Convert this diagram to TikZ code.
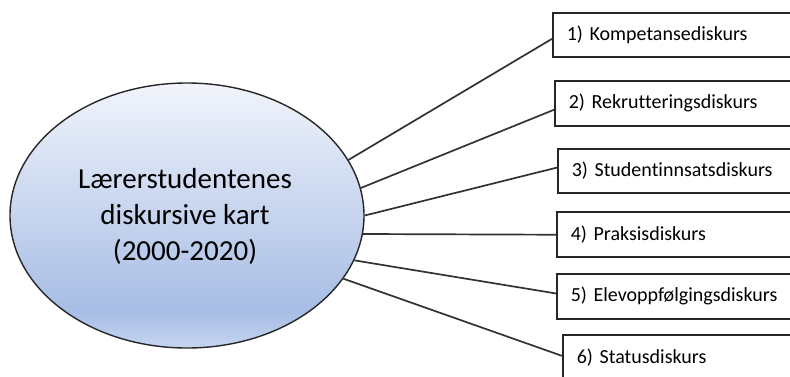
\documentclass[tikz,border=0pt]{standalone}
\usepackage{fontspec}
\setmainfont[Ligatures=NoCommon]{Carlito}
\usetikzlibrary{shapes.geometric,calc}

\definecolor{hubtop}{RGB}{241,244,251}
\definecolor{hubmid}{RGB}{167,189,229}
\definecolor{hubbot}{RGB}{198,213,240}
\definecolor{edge}{RGB}{50,50,50}

% vertical fill of the central ellipse: light at the top, deepest blue near the bottom
\pgfdeclareverticalshading{hubshade}{100bp}{%
  color(0bp)=(hubbot); color(25bp)=(hubbot); color(32bp)=(hubmid);
  color(75bp)=(hubtop); color(100bp)=(hubtop)}

\tikzset{
  hub/.style={ellipse, draw=black!85, line width=1.4pt, shading=hubshade,
    minimum width=354pt, minimum height=265pt, inner sep=0pt},
  hubtext/.style={font=\fontsize{29pt}{36pt}\selectfont, align=center, text=black},
  disc/.style={draw=black!85, line width=1.5pt, anchor=north west,
    minimum width=260pt, minimum height=45pt, text width=235pt,
    inner xsep=14pt, align=left, font=\fontsize{20pt}{22pt}\selectfont, text=black},
  link/.style={draw=edge, line width=1.7pt}
}

\begin{document}
\begin{tikzpicture}[x=1pt,y=-1pt]
  \useasboundingbox (0,0) rectangle (790,376);
  \clip (0,0) rectangle (790,376);

  \node[hub] (hub) at (187,215.5) {};
  \node[hubtext] (title) at (185,216.5) {Lærerstudentenes\\diskursive kart\\(2000-2020)};

  \node[disc, minimum height=44pt] (d1) at (552,12)  {1) Kompetansediskurs};
  \node[disc] (d2) at (554,80)  {2) Rekrutteringsdiskurs};
  \node[disc, minimum height=44pt] (d3) at (557,148) {3) Studentinnsatsdiskurs};
  \node[disc] (d4) at (556,211) {4) Praksisdiskurs};
  \node[disc] (d5) at (556,273) {5) Elevoppfølgingsdiskurs};
  \node[disc] (d6) at (562,334) {6) Statusdiskurs};

  \draw[link] (hub.19.7) -- ($(d1.north west)!0.59!(d1.south west)$);
  \draw[link] (hub.9.5)  -- ($(d2.north west)!0.64!(d2.south west)$);
  \draw[link] (hub.0.5)  -- ($(d3.north west)!0.43!(d3.south west)$);
  \draw[link] (hub.-6.9) -- ($(d4.north west)!0.51!(d4.south west)$);
  \draw[link] (hub.-15)  -- ($(d5.north west)!0.44!(d5.south west)$);
  \draw[link] (hub.-22.5) -- ($(d6.north west)!0.47!(d6.south west)$);
\end{tikzpicture}
\end{document}
